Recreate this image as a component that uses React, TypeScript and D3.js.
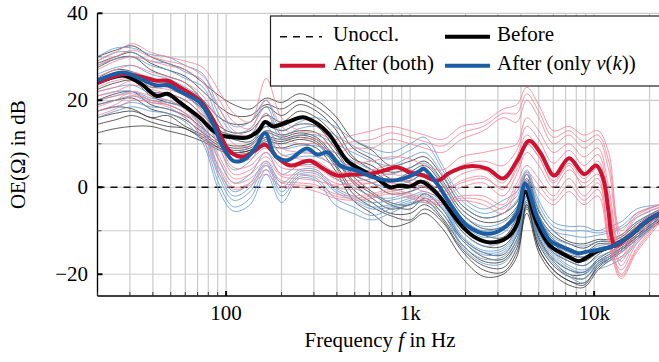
import { useRef, useEffect } from 'react';
import * as d3 from 'd3';

const W = 659;
const H = 362;

const COLOR_BEFORE = '#000000';
const COLOR_BOTH = '#d0112f';
const COLOR_ONLY = '#1a5ea6';

// common frequency grid (Hz) for the individual measurements
const GRID_F = [20, 25, 31, 39, 48, 60, 75, 92, 110, 135, 165, 200, 250, 310, 390, 490, 620, 780, 1000, 1200, 1500, 1900, 2500, 3200, 3800, 4300, 5000, 6000, 7300, 8800, 10500, 12000, 14000, 17000, 23000];

// individual curves, "Before"
const BEFORE_THIN = [
  [30, 31.5, 32.5, 30, 28.5, 27, 24, 21, 19, 18, 20.5, 19.5, 21.5, 20, 16.5, 11, 8.5, 5, 6, 7, 2.5, -4, -7, -6, -3.5, 3, -5.5, -10, -12.5, -13, -12, -12, -11, -8, -5],
  [27.5, 29.5, 30, 27, 25.5, 24, 20, 16, 14.5, 15, 18.5, 16.5, 19, 17.5, 13.5, 7, 4, 1.5, 3.5, 5, 0.5, -6, -9.5, -9, -5, 1.5, -7, -12, -14, -15, -13, -13, -12, -9, -5.5],
  [25, 27, 26.5, 23, 23.5, 21, 18, 14, 12.5, 13, 16.5, 15, 17.5, 16, 12, 6.5, 5, 2, 1.5, 3, -1.5, -8, -11, -11.5, -7, 0, -8.5, -13, -15.5, -16, -14, -13.5, -12.5, -10, -6],
  [22.5, 24, 24.5, 21, 19.5, 18.5, 15, 12, 11, 10.5, 14, 13, 14.5, 14, 9, 3, 1, -1.5, -1, 0, -3.5, -10, -13.5, -13.5, -9.5, -2, -10.5, -15, -17, -18, -15.5, -14, -13, -10.5, -6.5],
  [20, 21.5, 22, 19, 18, 16.5, 13.5, 10.5, 9.5, 10, 13, 12, 13, 12.5, 8, 2.5, -1, -3.5, -4, -1.5, -5, -11.5, -15, -15.5, -11, -3.5, -11.5, -16.5, -19, -19.5, -16.5, -15, -13.5, -11, -7],
  [17.5, 18.5, 18, 16, 16.5, 14, 12, 9.5, 8.5, 9, 11.5, 11, 12, 11, 6.5, 1, -2.5, -5, -4, -3, -7, -13, -17, -17, -13, -4.5, -13, -18, -20.5, -21, -17.5, -16, -14, -11.5, -7.5],
  [14.5, 15.5, 16.5, 15, 14, 13.5, 11, 9, 8, 8.5, 10.5, 10, 11, 10, 5, -1.5, -4.5, -6.5, -7.5, -5, -8, -14.5, -19, -19.5, -15, -6, -15, -20, -22.5, -23, -19, -17, -15, -12, -8],
  [12.5, 13.5, 14, 14, 13, 12, 10.5, 8.5, 7.5, 8, 9.5, 9, 10, 9, 4, -3, -6, -9, -8, -6, -9.5, -16, -20.5, -20, -16, -4, -14, -19, -21.5, -22.5, -18, -16.5, -14.5, -11.5, -7.5],
  [28.5, 30, 31, 28.5, 27, 25.5, 22, 18.5, 16.5, 16.5, 19, 18, 20, 18.5, 15, 9, 6.5, 3.5, 4.5, 6, 1.5, -5, -8, -7.5, -4.5, 2, -6.5, -11, -13, -14, -12.5, -12.5, -11.5, -8.5, -5],
  [24, 25.5, 25, 22, 21.5, 20, 16.5, 13, 12, 12, 15, 14, 16, 15, 10.5, 4.5, 2.5, -0.5, 0, 1.5, -2.5, -9, -12.5, -12.5, -8.5, -1, -9.5, -14, -16, -17, -15, -14, -13, -10, -6.5],
  [19, 20, 20.5, 18, 17, 15.5, 12.5, 10, 9, 9.5, 12.5, 11.5, 12.5, 11.5, 7, 1.5, -1.5, -4, -5, -2.5, -6, -12, -16, -16.5, -12, -4, -12, -17, -20, -20, -17, -15.5, -14, -11, -7],
  [16, 17, 17.5, 16, 15, 13.5, 11.5, 9, 8, 8.5, 11, 10.5, 11.5, 10.5, 5.5, -0.5, -3.5, -6, -6, -4, -7.5, -14, -18, -18.5, -14, -5, -14, -19, -21.5, -22, -18.5, -16.5, -14.5, -11.5, -7.5],
];

// individual curves, "After (both)"
const BOTH_THIN = [
  [29, 31, 33, 31, 30, 29, 27.5, 22, 17, 15, 25, 16, 13, 12.5, 11, 12, 13, 14, 13, 12, 11, 14, 15, 18, 19, 23, 19, 13, 14, 12, 13, 8, -10, -6, -4],
  [27, 29, 30, 29, 28, 27, 24, 18, 13, 12, 17, 12, 10, 10, 8, 9, 9, 11, 10, 9, 8, 11, 13, 16, 15, 20, 16, 10, 12, 9, 11, 4, -12, -7, -4.5],
  [25.5, 27, 28, 26.5, 25.5, 24, 21, 15, 10, 9.5, 13, 9, 8, 7.5, 5, 5.5, 6, 7, 6.5, 5, 4, 7, 8, 9, 10, 16, 13, 8, 10, 7, 9, 0, -14, -9, -5],
  [23, 24.5, 25, 24, 23, 21.5, 18, 11, 6, 6.5, 9, 6, 5, 4.5, 2, 1.5, 2, 3, 2, 1, 0, 3, 4, 1, 7, 12, 9, 3, 7, 3, 6, -4, -16, -10, -5.5],
  [21, 22, 23.5, 22.5, 21.5, 20, 16, 9, 3, 4, 7, 3, 3, 2.5, 0, -0.5, 0, 1, 0, -1, -2, 0, 1, -2, 3, 8, 5, 0, 4, 1, 3, -7, -18, -12, -6],
  [18.5, 20, 22, 21, 20, 18, 13, 6, 1, 2, 5, 1.5, 1, 0.5, -1.5, -2, -1.5, -0.5, -1.5, -2.5, -3, -2, -2, -4, 1, 5, 2, -2, 2, -2, 1, -10, -20, -14, -7],
  [16.5, 18, 20, 19.5, 18.5, 16, 11, 3, -0.5, 0.5, 3, 0, 0, -1, -2.5, -3, -2.5, -1.5, -2.5, -3.5, -4, -3, -4, -6, -1, 2, -1, -4, -1, -4, -2, -13, -21, -15, -8],
  [20, 21, 21.5, 20, 19, 17, 14, 7, 2, 3, 6, 2.5, 2, 1.5, 0.5, 1, 1, 2, 1, 0, -1, 1, 2, 0, 4, 10, 7, 1, 5, 0, 2, -12, -19, -13, -7],
  [28, 30, 31.5, 30, 29, 28, 25.5, 20, 15, 13.5, 20, 14, 11.5, 11, 9.5, 10.5, 11, 12.5, 11.5, 10.5, 9.5, 12.5, 14, 17, 17, 21.5, 17.5, 11.5, 13, 10.5, 12, 6, -11, -6.5, -4],
  [24, 25.5, 26.5, 25, 24, 22.5, 19.5, 13, 8, 8, 11, 7.5, 6.5, 6, 3.5, 3.5, 4, 5, 4, 3, 2, 5, 6, 5, 8.5, 14, 11, 5.5, 8.5, 5, 7.5, -2, -15, -9.5, -5],
  [22, 23, 24.5, 23, 22.5, 21, 17, 10, 4.5, 5, 8, 4.5, 4, 3.5, 1, 0.5, 1, 2, 1, 0, -1, 1.5, 2.5, -0.5, 5, 10, 7, 1.5, 5.5, 2, 4.5, -6, -17, -11, -6],
  [17.5, 19, 21, 20, 19, 17, 12, 4.5, 0, 1, 4, 1, 0.5, 0, -2, -2.5, -2, -1, -2, -3, -3.5, -2.5, -3, -5, 0, 3.5, 0.5, -3, 0.5, -3, -0.5, -11.5, -20.5, -14.5, -7.5],
];

// individual curves, "After (only v(k))"
const ONLY_THIN = [
  [30, 32, 32, 30.5, 30, 28, 26, 18, 14, 15, 20, 13, 15, 16, 14, 11, 9, 8, 10, 11.5, 5, -2, -5, -3, -1, 4, -3, -8, -9, -9, -10, -9, -8, -5, -4],
  [28, 29.5, 30, 28, 27, 25, 23, 15, 11, 12, 17, 11, 12, 12, 10, 8, 6, 5, 7, 8, 3, -4, -7, -6, -3, 3, -5, -10, -11, -11.5, -11, -10.5, -9.5, -7, -4.5],
  [26, 27.5, 28, 26, 25, 23, 20, 12, 8, 9.5, 14, 9, 9.5, 9.5, 8, 6, 4, 3, 4.5, 5.5, 1, -6, -9, -8, -5, 1.5, -6.5, -11.5, -13, -13.5, -12.5, -12, -11, -8, -5],
  [24, 25, 25.5, 23.5, 23, 21, 17.5, 9, 4, 6, 11, 6, 7, 7, 5, 3, 1, 0, 1.5, 3, -1.5, -8, -11.5, -10.5, -7, 0, -8, -13, -15, -16, -14.5, -13.5, -12.5, -9.5, -5.5],
  [22, 23, 23.5, 21.5, 21, 19, 15, 6, 1, 3, 8, 3, 5, 5, 2, 0, -2, -2.5, -1, 0.5, -3, -10, -13.5, -12.5, -9, -1.5, -9.5, -14.5, -17, -18, -16, -15, -14, -11, -6],
  [19, 20, 21, 19.5, 19, 17, 12.5, 2, -3, -1, 5, -1, 3, 3, -1, -3, -5, -4.5, -3, -2, -4.5, -12, -15.5, -15, -11, -2.5, -11, -16, -19, -20, -17.5, -16.5, -15, -12, -6.5],
  [16, 17.5, 18.5, 17.5, 17, 15, 10, -1, -5.5, -4, 3, -3.5, 2, 1.5, -4, -6, -7.5, -6, -4, -3.5, -6, -13.5, -17.5, -17.5, -13, -3, -12.5, -17.5, -20.5, -22, -19, -18, -16.5, -13, -7],
  [21, 22, 22, 20, 19.5, 18, 14, 4, -1, 1, 6, 1, 4, 4, 0, -2, -3.5, -3, -2, -1, -3.5, -11, -14.5, -14, -10, -1, -10, -15, -18, -19, -17, -16, -14.5, -11.5, -6],
  [29, 31, 31, 29, 28.5, 26.5, 24.5, 16.5, 12.5, 13.5, 18.5, 12, 13.5, 14, 12, 9.5, 7.5, 6.5, 8.5, 10, 4, -3, -6, -4.5, -2, 3.5, -4, -9, -10, -10, -10.5, -10, -9, -6, -4],
  [25, 26, 26.5, 24.5, 24, 22, 18.5, 10.5, 6, 7.5, 12.5, 7.5, 8, 8, 6.5, 4.5, 2.5, 1.5, 3, 4, -0.5, -7, -10, -9, -6, 1, -7, -12, -14, -15, -13.5, -13, -12, -9, -5],
  [20, 21, 22, 20.5, 20, 18, 13.5, 3, -2, 0, 5.5, 0, 3.5, 3.5, -0.5, -2.5, -4.5, -4, -2.5, -1.5, -4, -11.5, -15, -14.5, -10.5, -2, -10.5, -15.5, -18.5, -19.5, -17, -16, -14.5, -12, -6.5],
  [17.5, 18.5, 19.5, 18.5, 18, 16, 11, 0.5, -4.5, -2.5, 4, -2, 2.5, 2, -2.5, -4.5, -6.5, -5, -3.5, -3, -5, -13, -16.5, -16, -12, -3, -12, -17, -20, -21, -18, -17, -16, -12.5, -7],
];

// mean curves
const BEFORE_F = [20, 23, 27.5, 34, 42, 48, 56, 72, 85, 93, 110, 130, 150, 163, 180, 215, 262, 313, 367, 455, 556, 662, 778, 883, 1000, 1150, 1403, 1649, 1940, 2313, 2720, 3365, 3817, 4218, 4900, 5770, 6535, 7410, 8190, 8830, 10260, 12530, 15490, 19170, 23000];
const BEFORE_V = [24, 25, 25.7, 24, 21, 21.5, 19.5, 16, 13, 12, 11.5, 11.4, 13, 15, 14, 15, 16.1, 14.6, 11.9, 6.1, 3.8, 2, 0, 0.4, 0.2, 1.3, -1.5, -5.4, -9.2, -11.8, -12.7, -11.6, -8.4, -1, -8.4, -13.5, -15, -16.2, -17, -16.5, -14.8, -13.6, -11.3, -7.9, -5.9];

const BOTH_F = [20, 27.5, 34, 42, 48, 56, 72, 85, 101, 109, 119, 130, 144, 163, 180, 189, 223, 262, 286, 337, 401, 472, 607, 714, 850, 1000, 1177, 1403, 1649, 2042, 2620, 3200, 3817, 4434, 5090, 6070, 7310, 8830, 10260, 11200, 11920, 12530, 13010, 15490, 19170, 23000];
const BOTH_V = [24, 26, 25.5, 24.5, 24.5, 23, 20, 15.5, 9, 7.7, 7, 7.3, 8.5, 9.8, 8, 6.9, 5, 5.8, 6.1, 4.3, 2.7, 2.9, 3.1, 3.8, 4.6, 3.4, 2.7, 1.5, 3.4, 4.8, 4.3, 2, 6.1, 10.7, 8, 2.7, 6.7, 3, 5, 2, -5, -12, -13.5, -11.3, -7.9, -5.9];

const ONLY_F = [20, 27.5, 34, 42, 48, 56, 72, 85, 93, 101, 109, 119, 130, 144, 163, 180, 189, 215, 275, 313, 358, 417, 515, 630, 778, 964, 1133, 1177, 1403, 1649, 2042, 2620, 3200, 3817, 4218, 4900, 5770, 6535, 7410, 8190, 9160, 10260, 12530, 15490, 19170, 23000];
const ONLY_V = [24.5, 26.4, 25, 23.4, 23.5, 22, 19.5, 14.5, 10.5, 7.7, 6.1, 6, 6.8, 9, 12.5, 8, 6.9, 6.2, 8.9, 7.5, 8, 5, 3.8, 2.3, 1.5, 2.3, 3.8, 4.3, 0.8, -3.8, -8.8, -10.7, -9.5, -6, 0.8, -6.9, -12.3, -13.5, -14.5, -15.2, -14.8, -14.5, -13.6, -11.3, -7.9, -5.9];

const Y_LABELS = [40, 20, 0, -20];
const X_LABELS = [[100, '100'], [1000, '1k'], [10000, '10k']] as const;

export default function App() {
  const ref = useRef<SVGSVGElement>(null);

  useEffect(() => {
    const svg = d3.select(ref.current);
    svg.selectAll('*').remove();
    svg.style('font-family', '"Liberation Serif", "Times New Roman", Times, serif');

    const m = { left: 97.5, right: 660.7, top: 13.3, bottom: 296 };
    const fs = 21;

    const x = d3.scaleLog().domain([20, 23000]).range([m.left, m.right]);
    const y = d3.scaleLinear().domain([-25, 40]).range([m.bottom, m.top]);

    svg.append('clipPath').attr('id', 'plotclip').append('rect')
      .attr('x', m.left).attr('y', m.top - 2)
      .attr('width', m.right - m.left).attr('height', m.bottom - m.top + 2);

    // grid
    const xt = x.ticks();
    svg.append('g').selectAll('line').data(xt).enter().append('line')
      .attr('x1', d => x(d)).attr('x2', d => x(d))
      .attr('y1', m.top).attr('y2', m.bottom)
      .attr('stroke', '#cbcbcb').attr('stroke-width', 1.2);
    const yt = y.ticks(7);
    svg.append('g').selectAll('line').data(yt).enter().append('line')
      .attr('x1', m.left).attr('x2', m.right)
      .attr('y1', d => y(d)).attr('y2', d => y(d))
      .attr('stroke', '#cbcbcb').attr('stroke-width', 1.2);

    // zero line
    svg.append('line')
      .attr('x1', m.left).attr('x2', m.right).attr('y1', y(0)).attr('y2', y(0))
      .attr('stroke', '#111').attr('stroke-width', 1.6).attr('stroke-dasharray', '7,6');

    const line = d3.line<[number, number]>()
      .x(d => x(d[0])).y(d => y(d[1]))
      .curve(d3.curveCatmullRom.alpha(0.5));

    const plot = svg.append('g').attr('clip-path', 'url(#plotclip)');

    const thin = (rows: number[][], color: string, op: number) => {
      rows.forEach(r => {
        plot.append('path')
          .attr('d', line(r.map((v, i) => [GRID_F[i], v] as [number, number])))
          .attr('fill', 'none').attr('stroke', color)
          .attr('stroke-width', 0.9).attr('opacity', op);
      });
    };
    thin(BEFORE_THIN, '#2e2e2e', 0.85);
    thin(ONLY_THIN, '#5f98d0', 0.9);
    thin(BOTH_THIN, '#f57f93', 0.9);

    const thick = (fr: number[], vs: number[], color: string) => {
      plot.append('path')
        .attr('d', line(fr.map((f, i) => [f, vs[i]] as [number, number])))
        .attr('fill', 'none').attr('stroke', color)
        .attr('stroke-width', 4).attr('stroke-linejoin', 'round');
    };
    thick(BEFORE_F, BEFORE_V, COLOR_BEFORE);
    thick(BOTH_F, BOTH_V, COLOR_BOTH);
    thick(ONLY_F, ONLY_V, COLOR_ONLY);

    // axes
    svg.append('line')
      .attr('x1', m.left).attr('x2', m.left).attr('y1', m.top).attr('y2', m.bottom)
      .attr('stroke', '#000').attr('stroke-width', 1.3);
    svg.append('line')
      .attr('x1', m.left).attr('x2', m.right).attr('y1', m.bottom).attr('y2', m.bottom)
      .attr('stroke', '#000').attr('stroke-width', 1.3);

    const isDecade = (d: number) => Math.abs(Math.log10(d) - Math.round(Math.log10(d))) < 1e-6;
    svg.append('g').selectAll('line').data(xt).enter().append('line')
      .attr('x1', d => x(d)).attr('x2', d => x(d))
      .attr('y1', m.bottom).attr('y2', d => m.bottom - (isDecade(d) ? 5 : 4))
      .attr('stroke', d => isDecade(d) ? '#000' : '#333')
      .attr('stroke-width', d => isDecade(d) ? 2 : 1);
    svg.append('g').selectAll('line').data(yt).enter().append('line')
      .attr('x1', m.left).attr('x2', d => m.left + (d % 20 === 0 ? 5 : 4))
      .attr('y1', d => y(d)).attr('y2', d => y(d))
      .attr('stroke', d => d % 20 === 0 ? '#000' : '#555')
      .attr('stroke-width', d => d % 20 === 0 ? 2 : 1);

    svg.append('g').selectAll('text').data(Y_LABELS).enter().append('text')
      .attr('x', 88).attr('y', d => y(d) + 7)
      .attr('text-anchor', 'end').attr('font-size', fs)
      .text(d => (d < 0 ? '\u2212' + Math.abs(d) : String(d)));

    svg.append('g').selectAll('text').data(X_LABELS).enter().append('text')
      .attr('x', d => x(d[0])).attr('y', 320)
      .attr('text-anchor', 'middle').attr('font-size', fs)
      .text(d => d[1]);

    const xl = svg.append('text')
      .attr('x', 380).attr('y', 347)
      .attr('text-anchor', 'middle').attr('font-size', fs);
    xl.append('tspan').text('Frequency ');
    xl.append('tspan').attr('font-style', 'italic').text('f');
    xl.append('tspan').text(' in Hz');

    svg.append('text')
      .attr('transform', 'rotate(-90)')
      .attr('x', -(m.top + m.bottom) / 2).attr('y', 25)
      .attr('text-anchor', 'middle').attr('font-size', fs)
      .text('OE(\u03a9) in dB');

    // legend
    const lg = svg.append('g');
    lg.append('rect')
      .attr('x', 270.5).attr('y', 16).attr('width', 400).attr('height', 70)
      .attr('fill', '#fff').attr('stroke', '#222').attr('stroke-width', 1.2);
    const r1 = 36.7, r2 = 65.7;
    lg.append('line').attr('x1', 280).attr('x2', 322).attr('y1', r1).attr('y2', r1)
      .attr('stroke', '#111').attr('stroke-width', 1.6).attr('stroke-dasharray', '7,6');
    lg.append('line').attr('x1', 280).attr('x2', 325).attr('y1', r2).attr('y2', r2)
      .attr('stroke', COLOR_BOTH).attr('stroke-width', 4);
    lg.append('line').attr('x1', 445).attr('x2', 490).attr('y1', r1).attr('y2', r1)
      .attr('stroke', COLOR_BEFORE).attr('stroke-width', 4);
    lg.append('line').attr('x1', 445).attr('x2', 490).attr('y1', r2).attr('y2', r2)
      .attr('stroke', COLOR_ONLY).attr('stroke-width', 4);
    const lt = (tx: number, ty: number) => lg.append('text')
      .attr('x', tx).attr('y', ty).attr('font-size', fs);
    lt(333, r1 + 4.5).text('Unoccl.');
    lt(333, r2 + 4.5).text('After (both)');
    lt(497, r1 + 4.5).text('Before');
    const t4 = lt(497, r2 + 4.5);
    t4.append('tspan').text('After (only ');
    t4.append('tspan').attr('font-style', 'italic').text('v');
    t4.append('tspan').text('(');
    t4.append('tspan').attr('font-style', 'italic').text('k');
    t4.append('tspan').text('))');
  }, []);

  return (
    <svg ref={ref} width={W} height={H}
      style={{ position: 'absolute', left: 0, top: 0, background: '#fff' }} />
  );
}
